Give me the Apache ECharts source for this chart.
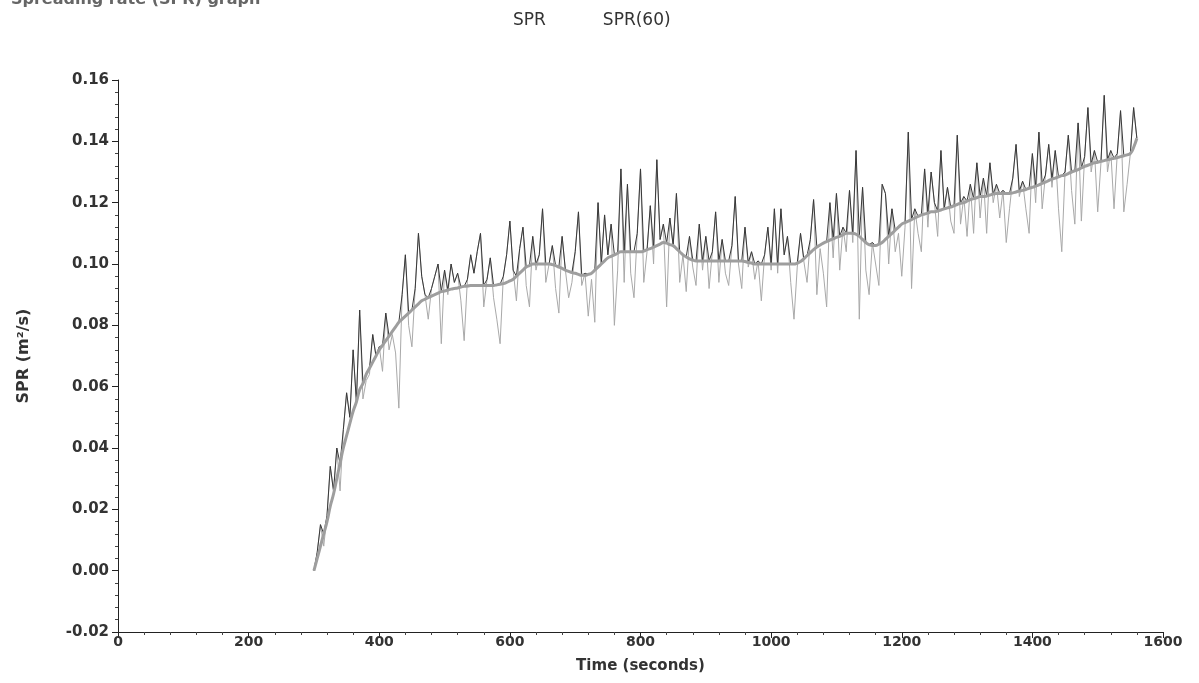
<!DOCTYPE html>
<html>
<head>
<meta charset="utf-8">
<script src="https://cdn.jsdelivr.net/npm/echarts@6/dist/echarts.min.js"></script>
<style>
html,body{margin:0;padding:0;background:#fff;}
#chart{width:1199px;height:683px;}
</style>
</head>
<body>
<div id="chart"></div>
<script>
// Sample times: first sample at 300 s, one sample every 5 s
const sampleStart = 300;
const sampleStep = 5;

// Raw SPR values (m²/s), 300 s .. 1560 s
const sprRaw = [
  0.000,0.006,0.015,0.008,0.018,0.034,0.026,0.040,0.026,0.046,
  0.058,0.050,0.072,0.055,0.085,0.056,0.062,0.064,0.077,0.070,
  0.073,0.065,0.084,0.072,0.077,0.071,0.053,0.090,0.103,0.080,
  0.073,0.092,0.110,0.096,0.090,0.082,0.092,0.096,0.100,0.074,
  0.098,0.090,0.100,0.094,0.097,0.088,0.075,0.095,0.103,0.097,
  0.104,0.110,0.086,0.095,0.102,0.089,0.082,0.074,0.096,0.103,
  0.114,0.098,0.088,0.105,0.112,0.093,0.086,0.109,0.098,0.103,
  0.118,0.094,0.100,0.106,0.092,0.084,0.109,0.098,0.089,0.094,
  0.104,0.117,0.093,0.097,0.083,0.095,0.081,0.120,0.100,0.116,
  0.103,0.113,0.080,0.098,0.131,0.094,0.126,0.097,0.089,0.110,
  0.131,0.094,0.104,0.119,0.100,0.134,0.108,0.113,0.086,0.115,
  0.106,0.123,0.094,0.103,0.091,0.109,0.099,0.093,0.113,0.098,
  0.109,0.092,0.104,0.117,0.094,0.108,0.097,0.093,0.106,0.122,
  0.100,0.092,0.112,0.099,0.104,0.095,0.101,0.088,0.103,0.112,
  0.098,0.118,0.097,0.118,0.103,0.109,0.094,0.082,0.099,0.110,
  0.101,0.094,0.108,0.121,0.090,0.105,0.097,0.086,0.120,0.102,
  0.123,0.098,0.112,0.104,0.124,0.107,0.137,0.082,0.125,0.098,
  0.090,0.107,0.100,0.093,0.126,0.123,0.100,0.118,0.104,0.110,
  0.096,0.112,0.143,0.092,0.118,0.110,0.104,0.131,0.112,0.130,
  0.120,0.109,0.137,0.118,0.125,0.114,0.110,0.142,0.113,0.122,
  0.109,0.126,0.110,0.133,0.115,0.128,0.110,0.133,0.120,0.126,
  0.115,0.124,0.107,0.118,0.128,0.139,0.122,0.127,0.118,0.110,
  0.136,0.120,0.143,0.118,0.129,0.139,0.125,0.137,0.118,0.104,
  0.130,0.142,0.124,0.113,0.146,0.114,0.135,0.151,0.130,0.137,
  0.117,0.133,0.155,0.130,0.137,0.118,0.136,0.150,0.117,0.126,
  0.136,0.151,0.141
];

// 60-second moving average SPR(60), same sample times
const spr60 = [
  0.000,0.004,0.008,0.012,0.016,0.021,0.025,0.030,0.035,0.040,
  0.044,0.048,0.052,0.055,0.059,0.061,0.064,0.066,0.068,0.070,
  0.072,0.0735,0.075,0.0765,0.078,0.0795,0.081,0.082,0.083,0.084,
  0.085,0.086,0.087,0.088,0.0885,0.089,0.0895,0.090,0.0905,0.091,
  0.0912,0.0915,0.0918,0.092,0.0922,0.0925,0.0927,0.0928,0.093,0.093,
  0.093,0.093,0.093,0.093,0.093,0.093,0.0932,0.0934,0.0936,0.094,
  0.0945,0.095,0.096,0.097,0.098,0.099,0.0995,0.100,0.100,0.100,
  0.100,0.100,0.100,0.0998,0.0995,0.099,0.0986,0.098,0.0976,0.0972,
  0.097,0.0966,0.0963,0.0963,0.0966,0.097,0.098,0.099,0.100,0.101,
  0.102,0.1025,0.103,0.1035,0.104,0.104,0.104,0.104,0.104,0.104,
  0.104,0.1042,0.1047,0.105,0.1055,0.106,0.1065,0.107,0.1068,0.1063,
  0.106,0.105,0.104,0.103,0.1023,0.1017,0.1013,0.101,0.101,0.101,
  0.101,0.101,0.101,0.101,0.101,0.101,0.101,0.101,0.101,0.101,
  0.101,0.101,0.1008,0.1005,0.1003,0.100,0.100,0.100,0.100,0.100,
  0.100,0.100,0.100,0.100,0.100,0.100,0.100,0.100,0.1003,0.1008,
  0.1017,0.1027,0.1037,0.1047,0.1055,0.1062,0.1068,0.1073,0.1078,0.1082,
  0.1087,0.109,0.1095,0.110,0.110,0.110,0.1097,0.109,0.108,0.107,
  0.1063,0.106,0.106,0.1065,0.107,0.108,0.109,0.110,0.111,0.112,
  0.113,0.1135,0.114,0.1145,0.115,0.1155,0.116,0.1163,0.1166,0.117,
  0.117,0.1173,0.1176,0.118,0.1183,0.1186,0.119,0.1194,0.1198,0.120,
  0.1205,0.121,0.1213,0.1216,0.122,0.122,0.1222,0.1225,0.1228,0.123,
  0.123,0.123,0.123,0.123,0.1232,0.1235,0.1238,0.124,0.1243,0.1247,
  0.125,0.1254,0.1258,0.1263,0.1267,0.1272,0.1277,0.128,0.1284,0.1288,
  0.129,0.1295,0.130,0.1304,0.1308,0.1313,0.1318,0.1322,0.1326,0.133,
  0.1332,0.1335,0.1337,0.134,0.1342,0.1345,0.1347,0.135,0.1353,0.1356,
  0.136,0.138,0.141
];

const seriesNames = ['SPR', 'SPR(60)'];
const titleText = 'Spreading rate (SPR) graph';
const xAxisName = 'Time (seconds)';
const yAxisName = 'SPR (m²/s)';

const n = Math.min(sprRaw.length, spr60.length);
const rawData = [], upperData = [], maData = [];
for (let i = 0; i < n; i++) {
  const t = sampleStart + i * sampleStep;
  rawData.push([t, sprRaw[i]]);
  upperData.push([t, Math.max(sprRaw[i], spr60[i])]);
  maData.push([t, spr60[i]]);
}

const labelFont = { fontFamily: 'DejaVu Sans', fontWeight: 'bold', color: '#333' };
const nameFont = { fontFamily: 'DejaVu Sans', fontWeight: 'bold', fontSize: 15, color: '#333' };

const chart = echarts.init(document.getElementById('chart'), null, { renderer: 'canvas' });
chart.setOption({
  animation: false,
  backgroundColor: '#fff',
  title: {
    text: titleText,
    left: 6,
    top: -13,
    textStyle: { fontFamily: 'DejaVu Sans', fontWeight: 'bold', fontSize: 16, color: '#666' }
  },
  legend: {
    data: seriesNames,
    top: 7,
    left: 503,
    icon: 'none',
    itemWidth: 0,
    itemGap: 52,
    textStyle: { fontFamily: 'DejaVu Sans', fontSize: 17, color: '#333' }
  },
  grid: { left: 118, right: 36, top: 80, bottom: 51, containLabel: false },
  xAxis: {
    type: 'value',
    min: 0, max: 1600, interval: 200,
    name: xAxisName,
    nameLocation: 'middle',
    nameGap: 27,
    nameTextStyle: nameFont,
    axisLine: { show: true, onZero: false, lineStyle: { color: '#222', width: 1 } },
    axisTick: { show: true, length: 6, lineStyle: { color: '#222' } },
    minorTick: { show: true, splitNumber: 5, length: 3, lineStyle: { color: '#444' } },
    splitLine: { show: false },
    axisLabel: Object.assign({ margin: 3, fontSize: 14, formatter: v => String(v) }, labelFont)
  },
  yAxis: {
    type: 'value',
    min: -0.02, max: 0.16, interval: 0.02,
    name: yAxisName,
    nameLocation: 'middle',
    nameGap: 86,
    nameRotate: 90,
    nameTextStyle: Object.assign({}, nameFont, { fontSize: 16 }),
    axisLine: { show: true, onZero: false, lineStyle: { color: '#222', width: 1 } },
    axisTick: { show: true, length: 6, lineStyle: { color: '#222' } },
    minorTick: { show: true, splitNumber: 5, length: 3, lineStyle: { color: '#444' } },
    splitLine: { show: false },
    axisLabel: Object.assign({ margin: 9, fontSize: 15, formatter: v => v.toFixed(2) }, labelFont)
  },
  series: [
    {
      name: seriesNames[0], type: 'line', data: rawData,
      showSymbol: false, symbol: 'none', z: 2,
      lineStyle: { color: '#a9a9a9', width: 1 }, itemStyle: { color: '#a9a9a9' }
    },
    {
      name: seriesNames[0], type: 'line', data: upperData,
      showSymbol: false, symbol: 'none', z: 3,
      lineStyle: { color: '#383838', width: 1 }, itemStyle: { color: '#383838' }
    },
    {
      name: seriesNames[1], type: 'line', data: maData,
      showSymbol: false, symbol: 'none', z: 4, smooth: 0.5,
      lineStyle: { color: '#9e9e9e', width: 3 }, itemStyle: { color: '#9e9e9e' }
    }
  ]
});
</script>
</body>
</html>
